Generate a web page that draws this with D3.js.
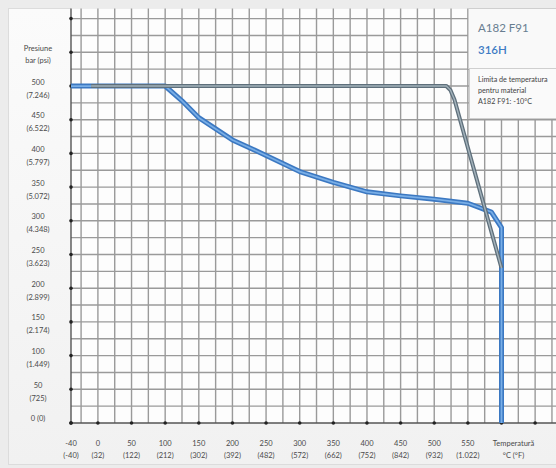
<!DOCTYPE html>
<html><head><meta charset="utf-8">
<script src="https://cdn.jsdelivr.net/npm/d3@7"></script>
<style>html,body{margin:0;padding:0;background:#f1f1f1;}svg{display:block;font-family:Lato,"Open Sans",sans-serif;}</style>
</head><body>
<script>
// Data
const barTicks = [0,50,100,150,200,250,300,350,400,450,500];
const psiLabels = ["0","725","1.449","2.174","2.899","3.623","4.348","5.072","5.797","6.522","7.246"];
const tempTicks = [-40,0,50,100,150,200,250,300,350,400,450,500,550];
const fahrLabels = ["-40","32","122","212","302","392","482","572","662","752","842","932","1.022"];
const seriesF91 = [[-10,500],[518,500],[524,494],[530,480],[600,230]];
const series316H = [[-40,500],[100,500],[125,478],[150,453],[200,420],[250,397],[300,373],[350,357],[400,343],[450,337],[500,332],[550,326],[585,313],[600,290],[600,0]];
const legendNames = ["A182 F91","316H"];
const noteLines = ["Limita de temperatura","pentru material","A182 F91: -10°C"];

const W=556,H=468;
const svg=d3.select("body").append("svg").attr("width",W).attr("height",H);
const x=d3.scaleLinear().domain([-40,600]).range([71,501.5]);
const y=d3.scaleLinear().domain([0,500]).range([423,86]);
const xMax=x.invert(560), yMax=y.invert(8.5);

// backgrounds
const bg=svg.append("defs").append("linearGradient").attr("id","bg").attr("x1",0).attr("x2",0).attr("y1",0).attr("y2",1);
bg.append("stop").attr("offset","0").attr("stop-color","#fbfbfb");
bg.append("stop").attr("offset","1").attr("stop-color","#f1f1f1");
svg.append("rect").attr("x",0).attr("y",0).attr("width",W).attr("height",H).attr("fill","#ececec");
svg.append("rect").attr("x",8.5).attr("y",8.5).attr("width",W).attr("height",H-12).attr("fill","url(#bg)").attr("stroke","#dcdcdc");
svg.append("rect").attr("x",x(-40)).attr("y",y(yMax)).attr("width",W-x(-40)).attr("height",y(0)-y(yMax)).attr("fill","#fdfdfd");

// grid
const g=svg.append("g");
const vx=d3.range(-25,xMax,25);
g.selectAll("line.v").data(vx).join("line").attr("x1",d=>x(d)).attr("x2",d=>x(d)).attr("y1",y(yMax)).attr("y2",y(0)).attr("stroke","#9a9a9a").attr("stroke-width",1.4);
const hy=d3.range(25,yMax,25);
g.selectAll("line.h").data(hy).join("line").attr("x1",x(-40)).attr("x2",W).attr("y1",d=>y(d)).attr("y2",d=>y(d)).attr("stroke","#9a9a9a").attr("stroke-width",1.4);
// axes
g.append("line").attr("x1",x(-40)).attr("x2",x(-40)).attr("y1",y(yMax)).attr("y2",y(0)).attr("stroke","#555").attr("stroke-width",1.4);
g.append("line").attr("x1",x(-40)).attr("x2",W).attr("y1",y(0)).attr("y2",y(0)).attr("stroke","#555").attr("stroke-width",1.4);
// tick dots
g.selectAll("circle.yd").data(d3.range(0,yMax,50)).join("circle").attr("cx",x(-40)).attr("cy",d=>y(d)).attr("r",1.8).attr("fill","#222");
g.selectAll("circle.xd").data(tempTicks.concat([600,650])).join("circle").attr("cx",d=>x(d)).attr("cy",y(0)).attr("r",1.8).attr("fill","#222");

// series lines
const line=d3.line().x(d=>x(d[0])).y(d=>y(d[1]));
function draw(data,outer,inner,w){
  svg.append("path").attr("d",line(data)).attr("fill","none").attr("stroke",outer).attr("stroke-width",w).attr("stroke-linejoin","round");
  svg.append("path").attr("d",line(data)).attr("fill","none").attr("stroke",inner).attr("stroke-width",w*0.35).attr("stroke-linejoin","round");
}
draw(series316H,"#3b78c2","#79aee6",5);
draw(seriesF91,"#5e6f7b","#a3b2bb",4);

// y labels
const lab=svg.append("g").attr("fill","#4a4a4a").attr("font-size",7.5).attr("text-anchor","middle");
barTicks.forEach((v,i)=>{
  if(v===0){lab.append("text").attr("x",38).attr("y",y(0)-2.5).text("0 (0)");return;}
  lab.append("text").attr("x",38).attr("y",y(v)-1.5).text(v);
  lab.append("text").attr("x",38).attr("y",y(v)+11.5).text("("+psiLabels[i]+")");
});
lab.append("text").attr("x",38).attr("y",y(550)-1.5).text("Presiune");
lab.append("text").attr("x",38).attr("y",y(550)+10.5).text("bar (psi)");
tempTicks.forEach((t,i)=>{
  lab.append("text").attr("x",x(t)).attr("y",446).text(t);
  lab.append("text").attr("x",x(t)).attr("y",457.5).text("("+fahrLabels[i]+")");
});
lab.append("text").attr("x",x(600)+12).attr("y",446).text("Temperatură");
lab.append("text").attr("x",x(600)+12).attr("y",457.5).text("°C (°F)");

// legend boxes
svg.append("rect").attr("x",468.5).attr("y",8.5).attr("width",100).attr("height",60).attr("fill","#f9f9f9").attr("stroke","#cfcfcf");
svg.append("rect").attr("x",469.5).attr("y",68.5).attr("width",100).attr("height",50).attr("fill","#fafafa").attr("stroke","#cfcfcf");
svg.append("text").attr("x",478).attr("y",32).attr("font-size",11.5).attr("fill","#687d90").text(legendNames[0]);
svg.append("text").attr("x",478).attr("y",54).attr("font-size",11.5).attr("fill","#3f7cc4").attr("font-weight","600").text(legendNames[1]);
noteLines.forEach((s,i)=>svg.append("text").attr("x",478).attr("y",82+i*11).attr("font-size",7.2).attr("fill","#444").text(s));
</script>
</body></html>
